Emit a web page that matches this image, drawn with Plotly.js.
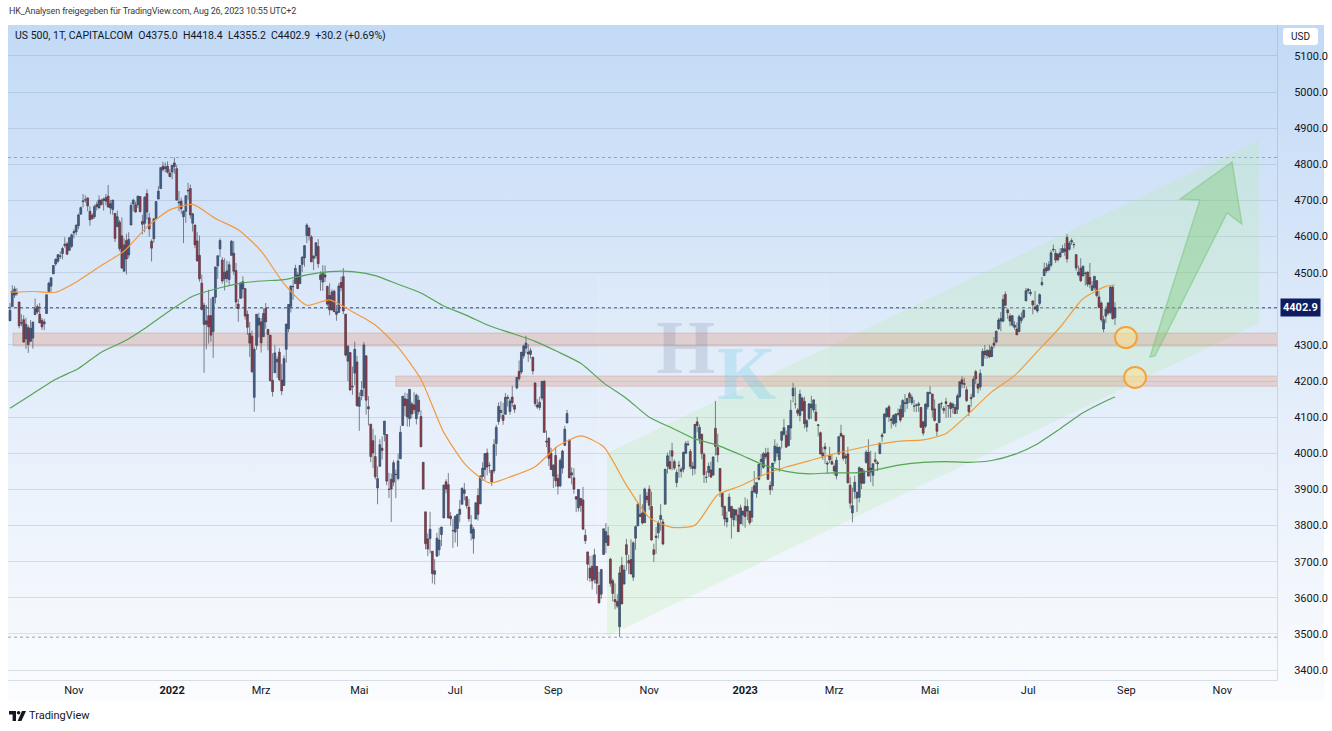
<!DOCTYPE html>
<html><head><meta charset="utf-8">
<script src="https://cdn.plot.ly/plotly-3.0.1.min.js"></script>
<style>
html,body{margin:0;padding:0;width:1332px;height:731px;overflow:hidden;background:#fff;font-family:Roboto,"Noto Sans",sans-serif;}
#bg{position:absolute;left:8px;top:25px;width:1316px;height:675px;background:linear-gradient(to bottom,#c2daf6 0%,#d2e3f8 25%,#e1ecfa 50%,#eef4fc 75%,#fafcfe 100%);}
#chart{position:absolute;left:0;top:0;width:1332px;height:731px;}
#hdr{position:absolute;left:9px;top:6px;font-size:9px;letter-spacing:-0.15px;color:#3a3a3a;white-space:nowrap;}
#leg{position:absolute;left:15px;top:29px;font-size:10.5px;color:#131722;white-space:pre;}
#usd{position:absolute;left:1283px;top:28px;width:35px;height:17px;background:#fff;border-radius:3px;font-size:10px;color:#131722;text-align:center;line-height:17px;}
#foot{position:absolute;left:9px;top:709px;font-size:11px;color:#131722;display:flex;align-items:center;gap:3px;}
</style></head>
<body>
<div id="bg"></div>
<div id="chart"></div>
<div id="hdr">HK_Analysen freigegeben für TradingView.com, Aug 26, 2023 10:55 UTC+2</div>
<div id="leg"></div>
<div id="usd">USD</div>
<div id="foot"><svg width="17" height="10" viewBox="0 0 17 10"><path d="M0 0H7V10H3.6V3.4H0Z" fill="#131722"/><circle cx="9.6" cy="1.8" r="1.8" fill="#131722"/><path d="M13 0H17L12.4 10H8.6Z" fill="#131722"/></svg><span>TradingView</span></div>
<script>
// ---- data (US 500 CFD, daily, 22 Sep 2021 .. 25 Aug 2023) ----
const opens = [
4367,4406,4438,4442,4419,4362,4370,
4317,4348,4310,4319,4384,4406,4385,4368,4358,4387,4448,4463,4497,4524,4532,4547,4553,4579,4580,4562,4573,
4610,4613,4630,4662,4699,4701,4707,4670,4659,4655,4689,4679,4701,4700,4708,4712,4679,4675,4664,4628,4640,
4602,4504,4589,4549,4632,4690,4688,4688,4711,4642,4637,4719,4652,4587,4594,4650,4704,4733,4795,4788,4795,4776,
4779,4804,4788,4693,4698,4655,4670,4728,4733,4637,4632,4588,4548,4471,4357,4367,4381,4381,4337,4432,
4519,4566,4535,4483,4505,4481,4548,4554,4506,4413,4429,4455,4456,4385,4332,4324,4155,4299,4355,
4364,4323,4401,4343,4327,4202,4223,4253,4280,4203,4188,4288,4345,4407,4462,4470,4494,4470,4523,4541,4603,4624,4599,
4540,4547,4573,4494,4474,4494,4462,4437,4397,4449,4385,4390,4473,4489,4385,4255,4279,4186,4222,4253,
4130,4159,4181,4270,4129,4081,4035,3991,3904,3964,4014,4052,4052,3900,3928,3920,3942,3930,3985,4077,4151,
4149,4096,4137,4134,4096,4147,4102,3975,3838,3763,3764,3729,3665,3715,3733,3775,3821,3921,3913,3826,3786,
3782,3792,3831,3859,3889,3880,3851,3779,3764,3818,3883,3860,3936,3955,4001,3966,3953,3951,4027,4088,
4113,4105,4108,4155,4116,4156,4133,4181,4227,4225,4270,4291,4280,4274,4266,4195,4134,4127,4153,4199,4034,4042,4000,
3937,3994,3930,3910,3959,4022,4084,4037,3940,3932,3880,3849,3875,3871,3773,3727,3682,3687,3651,3687,3634,
3610,3720,3753,3772,3707,3647,3595,3590,3520,3690,3638,3747,3703,3706,3657,3765,3799,3825,3835,3808,3881,
3901,3853,3733,3767,3780,3817,3810,3859,3964,3977,4007,3977,3919,3967,3956,3956,4000,4024,4005,3964,3958,
4087,4041,4053,3997,3934,3947,3954,3940,4069,4016,3958,3890,3853,3810,3840,3853,3816,3843,3829,3805,3829,
3853,3840,3840,3823,3910,3889,3928,3977,3961,3999,4002,3911,3910,3979,4001,3982,4036,4053,4050,4021,
4070,4159,4136,4120,4105,4153,4144,4073,4097,4126,4120,4114,4077,4057,4001,4018,3973,3993,3977,
3964,3938,3998,4055,4049,3987,3998,3912,3835,3894,3876,3878,3958,3917,3975,4003,3959,3939,3982,3974,3999,4046,4056,
4102,4129,4095,4082,4085,4110,4122,4101,4140,4138,4165,4140,4131,4132,4133,4127,4087,4075,4129,
4166,4164,4123,4082,4085,4137,4124,4143,4132,4139,4127,4127,4122,4157,4204,4191,4176,4133,4155,4156,4226,4191,
4184,4242,4283,4271,4285,4268,4305,4308,4345,4366,4366,4440,4397,4380,4355,4355,4344,4337,4368,4377,4422,
4450,4442,4422,4405,4394,4415,4467,4492,4514,4508,4521,4563,4554,4551,4544,4556,4559,4598,4565,4585,
4578,4550,4494,4513,4491,4498,4502,4487,4451,4459,4478,4433,4416,4344,4380,4416,4390,4460,4375.0];
const highs = [
4416,4465,4463,4457,4419,4385,4382,
4375,4355,4369,4365,4429,4412,4416,4375,4372,4439,4475,4487,4520,4540,4551,4559,4572,4598,4585,4597,4608,
4621,4635,4664,4683,4718,4714,4708,4684,4665,4688,4697,4714,4705,4708,4718,4743,4702,4702,4664,4672,4646,
4653,4595,4608,4612,4694,4705,4697,4713,4711,4660,4712,4731,4666,4592,4651,4698,4740,4791,4807,4805,4808,4787,
4797,4819,4798,4726,4708,4673,4714,4749,4744,4666,4633,4612,4603,4495,4417,4411,4453,4429,4432,4516,
4547,4595,4543,4540,4533,4531,4590,4588,4527,4427,4472,4490,4457,4395,4363,4340,4295,4385,4389,
4375,4401,4416,4343,4327,4277,4299,4268,4291,4247,4271,4358,4412,4465,4481,4522,4501,4520,4546,4575,4637,4627,4604,
4548,4583,4593,4504,4521,4520,4464,4471,4454,4453,4411,4471,4489,4513,4386,4300,4279,4240,4309,4270,
4169,4200,4308,4270,4158,4081,4068,4050,3964,4039,4047,4090,4052,3946,3944,3981,3955,3999,4076,4158,4168,
4166,4177,4143,4169,4165,4160,4119,3975,3838,3778,3838,3729,3707,3780,3794,3796,3913,3928,3945,3837,3818,
3829,3832,3871,3906,3918,3880,3873,3829,3796,3863,3903,3939,3975,3999,4013,3975,3954,4039,4079,4141,
4144,4140,4167,4162,4152,4187,4137,4211,4257,4280,4301,4325,4302,4292,4266,4195,4150,4157,4200,4203,4063,4044,4015,
3970,4018,3942,3987,4010,4076,4120,4037,3961,3959,3880,3900,3877,3907,3790,3727,3716,3717,3736,3687,3672,
3680,3791,3807,3797,3711,3653,3640,3610,3686,3713,3690,3763,3719,3762,3757,3800,3862,3886,3859,3905,3893,
3911,3894,3750,3796,3814,3859,3818,3957,4002,4009,4029,3983,3955,3979,3962,4004,4034,4035,4012,3976,4080,
4101,4080,4053,4002,3951,3974,3977,3990,4145,4054,3959,3890,3855,3839,3889,3853,3845,3846,3849,3858,3840,
3878,3873,3840,3907,3951,3919,3970,3998,4004,4015,4015,3922,3973,4039,4028,4020,4060,4095,4063,4077,
4148,4195,4183,4125,4176,4157,4157,4095,4138,4159,4148,4136,4081,4060,4018,4029,3979,4018,3997,
3972,3990,4048,4079,4050,4000,4018,3934,3905,3938,3894,3964,3959,3956,4009,4039,4007,3972,4003,3979,4030,4057,4110,
4128,4134,4100,4108,4110,4124,4134,4150,4164,4152,4170,4162,4148,4138,4143,4127,4090,4139,4170,
4186,4165,4149,4083,4139,4143,4131,4154,4133,4143,4141,4136,4165,4198,4213,4209,4185,4133,4165,4213,4231,4195,
4232,4290,4300,4289,4300,4298,4322,4340,4375,4391,4439,4448,4401,4387,4382,4366,4362,4384,4390,4398,4458,
4456,4454,4422,4449,4413,4443,4488,4528,4527,4532,4562,4578,4565,4555,4568,4577,4582,4607,4587,4595,
4585,4551,4520,4540,4520,4503,4503,4527,4477,4490,4478,4449,4421,4381,4407,4419,4465,4466,4418.4];
const lows = [
4367,4406,4430,4436,4346,4352,4306,
4289,4278,4309,4290,4384,4386,4361,4342,4341,4387,4448,4447,4496,4519,4527,4538,4537,4569,4551,4562,4569,
4595,4604,4621,4662,4681,4694,4670,4630,4648,4650,4672,4679,4688,4672,4687,4680,4662,4660,4585,4626,4560,
4510,4504,4495,4540,4632,4670,4666,4679,4667,4606,4612,4647,4600,4531,4583,4645,4703,4733,4780,4778,4775,4765,
4759,4774,4700,4671,4663,4582,4638,4702,4650,4614,4568,4530,4475,4396,4223,4288,4304,4309,4264,4415,
4483,4544,4470,4451,4473,4465,4548,4494,4401,4364,4429,4430,4370,4328,4267,4222,4115,4287,4321,
4279,4323,4345,4285,4199,4157,4223,4209,4200,4161,4187,4251,4335,4390,4425,4470,4455,4468,4502,4517,4582,4589,4530,
4507,4539,4514,4450,4450,4474,4408,4382,4395,4392,4367,4390,4449,4385,4268,4200,4175,4162,4188,4129,
4062,4147,4157,4107,4077,3975,3959,3928,3859,3964,3983,4033,3912,3876,3810,3909,3876,3925,3985,4077,4104,
4074,4074,4097,4110,4080,4107,4017,3901,3734,3715,3723,3640,3637,3715,3717,3743,3821,3889,3820,3800,3738,
3753,3742,3809,3859,3870,3847,3811,3759,3722,3818,3814,3860,3924,3927,3939,3946,3910,3944,3993,4079,
4096,4079,4108,4129,4107,4128,4112,4177,4201,4219,4262,4277,4253,4262,4218,4130,4123,4119,4147,4057,4017,3965,3954,
3904,3907,3886,3906,3944,4022,4084,3933,3914,3888,3837,3839,3838,3789,3749,3648,3644,3623,3640,3610,3584,
3597,3720,3723,3744,3631,3590,3568,3571,3491,3584,3638,3676,3666,3665,3647,3733,3799,3824,3803,3808,3863,
3843,3758,3699,3722,3764,3786,3745,3859,3944,3956,3953,3954,3906,3932,3933,3947,3999,4020,3956,3938,3942,
4058,4026,3984,3918,3918,3935,3933,3937,3994,3975,3879,3827,3800,3795,3839,3764,3797,3813,3783,3805,3800,
3794,3815,3802,3810,3890,3877,3925,3937,3957,3984,3926,3885,3897,3971,3990,3949,4013,4048,4015,4020,
4037,4141,4124,4103,4088,4117,4069,4060,4092,4095,4113,4089,4047,3997,3982,3971,3944,3973,3968,
3939,3928,3995,4044,3980,3970,3918,3847,3809,3874,3838,3864,3901,3916,3971,3936,3920,3909,3971,3951,3999,4032,4056,
4098,4087,4069,4077,4073,4103,4086,4099,4114,4123,4140,4134,4115,4114,4115,4071,4049,4070,4122,
4164,4099,4088,4048,4084,4124,4110,4098,4099,4099,4110,4109,4109,4153,4180,4180,4142,4103,4129,4155,4192,4166,
4174,4242,4262,4262,4264,4266,4291,4305,4341,4338,4363,4407,4372,4352,4351,4342,4328,4336,4360,4372,4422,
4442,4436,4385,4399,4389,4409,4463,4491,4499,4504,4515,4557,4527,4531,4541,4555,4547,4528,4561,4577,
4567,4505,4490,4474,4491,4464,4461,4457,4451,4453,4432,4403,4364,4335,4360,4383,4385,4370,4355.2];
const closes = [
4396,4449,4455,4443,4353,4360,4308,
4357,4301,4346,4363,4400,4391,4361,4350,4364,4439,4471,4486,4520,4537,4550,4545,4567,4575,4551,4597,4605,
4614,4631,4660,4680,4697,4702,4685,4646,4649,4683,4683,4701,4688,4704,4698,4682,4691,4701,4595,4655,4567,
4513,4577,4538,4592,4686,4701,4668,4712,4669,4634,4709,4668,4621,4568,4649,4697,4726,4791,4786,4793,4778,4766,
4797,4794,4701,4696,4677,4670,4713,4726,4660,4663,4577,4533,4483,4398,4410,4357,4350,4327,4432,4516,
4547,4589,4477,4501,4484,4522,4587,4504,4419,4401,4472,4475,4380,4349,4305,4226,4288,4385,4374,
4306,4387,4364,4329,4201,4171,4278,4260,4204,4173,4262,4358,4412,4463,4461,4512,4456,4520,4543,4575,4632,4602,4530,
4546,4583,4525,4481,4500,4488,4413,4397,4447,4392,4392,4463,4459,4394,4272,4296,4175,4184,4288,4132,
4155,4175,4300,4147,4123,3991,4001,3935,3930,4024,4008,4089,3923,3901,3901,3974,3941,3979,4058,4158,4132,
4101,4177,4109,4121,4161,4116,4018,3901,3750,3735,3790,3667,3675,3765,3760,3796,3912,3901,3821,3819,3785,
3825,3831,3845,3903,3899,3855,3819,3802,3790,3863,3831,3937,3959,3999,3962,3967,3921,4024,4072,4130,
4119,4091,4155,4152,4145,4140,4122,4210,4207,4280,4297,4305,4275,4284,4228,4138,4128,4141,4199,4058,4031,3986,3955,
3967,3924,3909,3980,4006,4067,4110,3932,3946,3901,3873,3900,3856,3790,3758,3693,3655,3647,3719,3640,3586,
3678,3791,3783,3745,3640,3612,3589,3577,3669,3583,3677,3720,3696,3666,3752,3797,3859,3831,3807,3901,3872,
3856,3760,3720,3771,3807,3828,3749,3956,3993,3957,3992,3959,3947,3965,3950,4003,4027,4026,3964,3958,4080,
4077,4072,3999,3941,3933,3964,3934,3990,4019,3996,3896,3852,3818,3821,3879,3822,3845,3829,3783,3849,3840,
3825,3853,3808,3895,3893,3919,3970,3983,3999,3991,3928,3899,3973,4020,4017,4016,4060,4071,4017,4077,
4119,4180,4136,4111,4164,4118,4082,4090,4137,4136,4148,4090,4079,3998,3991,4012,3970,3982,3970,
3951,3981,4046,4048,3986,3992,3918,3862,3855,3920,3892,3960,3917,3951,4003,3937,3948,3971,3977,3971,4028,4051,4109,
4124,4101,4091,4105,4109,4108,4092,4146,4138,4152,4154,4155,4130,4134,4137,4072,4056,4136,4169,
4168,4120,4091,4061,4136,4138,4119,4138,4131,4124,4136,4110,4159,4198,4192,4193,4146,4115,4151,4205,4206,4180,
4221,4282,4273,4284,4267,4294,4299,4338,4369,4373,4426,4410,4389,4366,4381,4349,4328,4378,4376,4396,4450,
4455,4446,4411,4399,4409,4439,4473,4510,4505,4522,4555,4565,4535,4536,4555,4567,4566,4538,4582,4589,
4577,4513,4502,4478,4518,4499,4468,4468,4464,4490,4437,4404,4370,4370,4399,4388,4460,4372.7,4402.9];

// trading days per month, Sep 2021 .. Nov 2023 (first month partial)
const monthBars = [7,21,21,22, 20,19,23,20,21,21,20,23,21,21,21,21, 20,19,23,19,22,21,20,23,20,22,21];
const monthLabels = ['','','Nov','','<b>2022</b>','','Mrz','','Mai','','Jul','','Sep','','Nov','','<b>2023</b>','','Mrz','','Mai','','Jul','','Sep','','Nov'];

// moving averages (bar index, value)
const maBars = [0,10,20,30,40,50,60,70,80,90,100,110,120,130,140,150,160,170,180,190,200,210,220,230,240,250,260,270,280,290,300,310,320,330,340,350,360,370,380,390,400,410,420,430,440,450,460,470,480,484];
const ma50 = [4446,4448,4446,4478,4520,4560,4627,4674,4689,4650,4619,4560,4470,4410,4425,4392,4355,4293,4205,4058,3965,3918,3937,3963,4020,4048,4018,3912,3822,3795,3801,3885,3910,3940,3962,3979,3997,4012,4025,4034,4037,4055,4110,4170,4215,4282,4349,4428,4462,4466];
const ma200 = [4125,4165,4205,4235,4280,4310,4350,4395,4435,4455,4470,4477,4481,4494,4503,4503,4492,4468,4444,4408,4382,4353,4332,4310,4281,4249,4195,4152,4100,4070,4040,4022,3996,3968,3950,3943,3946,3946,3955,3968,3975,3977,3975,3980,3997,4026,4068,4112,4145,4156];

const yTicks = [3400,3500,3600,3700,3800,3900,4000,4100,4200,4300,4400,4500,4600,4700,4800,4900,5000,5100];

// ---- build ----
const n = closes.length;
const last = n - 1;
const idx = [], bodyH = [], bodyLo = [], bodyCol = [], wx = [], wy = [];
for (let i = 0; i < n; i++) {
  idx.push(i);
  const lo = Math.min(opens[i], closes[i]), hi = Math.max(opens[i], closes[i]);
  bodyLo.push(lo);
  bodyH.push(hi - lo);
  bodyCol.push(closes[i] >= opens[i] ? '#3a74cc' : '#e0253e');
  wx.push(i, i, null);
  wy.push(Math.min(lows[i], lo), Math.max(highs[i], hi), null);
}
const tickvals = [], ticktext = [];
let acc = 0;
monthBars.forEach((b, k) => { if (monthLabels[k]) { tickvals.push(acc); ticktext.push(monthLabels[k]); } acc += b; });

const chg = closes[last] - closes[last - 1];
const pct = chg / closes[last - 1] * 100;
const sgn = chg >= 0 ? '+' : '';
document.getElementById('leg').textContent =
  'US 500, 1T, CAPITALCOM  O' + opens[last].toFixed(1) + '  H' + highs[last].toFixed(1) +
  '  L' + lows[last].toFixed(1) + '  C' + closes[last].toFixed(1) + '  ' + sgn + chg.toFixed(1) +
  ' (' + sgn + pct.toFixed(2) + '%)';

const hiAll = Math.max(...highs), loAll = Math.min(...lows);
// hide the axis label hidden behind the last-price tag
const yText = yTicks.map(v => Math.abs(v - closes[last]) < 25 ? '' : v.toFixed(1));

const traces = [
  {type:'scatter', mode:'lines', x:wx, y:wy, line:{color:'rgba(75,80,92,0.7)', width:1}, hoverinfo:'skip'},
  {type:'bar', x:idx, y:bodyH, base:bodyLo, width:0.8,
   marker:{color:bodyCol, line:{color:'#1c1f26', width:0.55}}},
  {type:'scatter', mode:'lines', x:maBars, y:ma50, line:{color:'#f39a3c', width:1.2, shape:'spline', smoothing:0.6}},
  {type:'scatter', mode:'lines', x:maBars, y:ma200, line:{color:'#55a555', width:1.2, shape:'spline', smoothing:0.6}}
];

const shapes = [
  // watermark panel
  {type:'rect', xref:'x', yref:'y', x0:257.6, x1:358.3, y0:3511, y1:4488, fillcolor:'rgba(255,255,255,0.08)', line:{color:'rgba(255,255,255,0.2)', width:1}, layer:'between'},
  // channel
  {type:'path', xref:'x', yref:'y', path:'M261.5,3493 L261.5,4000 L547.1,4867 L547.1,4360 Z', fillcolor:'rgba(180,235,170,0.26)', line:{width:0}, layer:'between'},
  // support zones
  {type:'rect', xref:'x', yref:'y', x0:1.3, x1:556, y0:4297, y1:4333, fillcolor:'rgba(223,135,108,0.28)', line:{color:'rgba(200,130,110,0.3)', width:1}, layer:'between'},
  {type:'rect', xref:'x', yref:'y', x0:169, x1:556, y0:4186, y1:4214, fillcolor:'rgba(223,135,108,0.28)', line:{color:'rgba(200,130,110,0.3)', width:1}, layer:'between'},
  // price lines
  {type:'line', xref:'paper', yref:'y', x0:0, x1:1, y0:hiAll, y1:hiAll, line:{color:'#9aa2b1', width:1, dash:'dot'}, layer:'between'},
  {type:'line', xref:'paper', yref:'y', x0:0, x1:1, y0:loAll, y1:loAll, line:{color:'#9aa2b1', width:1, dash:'dot'}, layer:'between'},
  {type:'line', xref:'paper', yref:'y', x0:0, x1:1, y0:closes[last], y1:closes[last], line:{color:'#2a4a96', width:1, dash:'dot'}, layer:'between'},
  // arrow
  {type:'path', xref:'x', yref:'y', path:'M499.3,4266.6 L521.2,4701.3 L512.5,4704.1 L535.3,4806.5 L539.6,4634.9 L533.1,4665.3 L501.5,4269.4 Z',
   fillcolor:'rgba(120,200,115,0.38)', line:{color:'rgba(100,190,100,0.4)', width:1.5}, layer:'above'},
  // circles
  {type:'circle', xref:'x', yref:'y', x0:484.0, x1:493.6, y0:4291.5, y1:4349.7, fillcolor:'rgba(255,228,150,0.55)', line:{color:'#f2a23e', width:2}, layer:'above'},
  {type:'circle', xref:'x', yref:'y', x0:488.0, x1:497.6, y0:4181, y1:4239, fillcolor:'rgba(255,228,150,0.55)', line:{color:'#f2a23e', width:2}, layer:'above'}
];

const annotations = [
  {xref:'x', yref:'y', x:296.0, y:4294, text:'<b>H</b>', showarrow:false, font:{family:'Liberation Serif', size:76, color:'rgba(105,120,150,0.2)'}},
  {xref:'x', yref:'y', x:322.5, y:4222, text:'<b>K</b>', showarrow:false, font:{family:'Liberation Serif', size:76, color:'rgba(120,205,235,0.33)'}},
  {xref:'paper', yref:'y', x:1, y:closes[last], xanchor:'left', xshift:3, text:'<b>' + closes[last].toFixed(1) + '</b>', showarrow:false,
   bgcolor:'#0d1d60', borderpad:2, font:{family:'Roboto', size:11, color:'#ffffff'}}
];

const layout = {
  width:1332, height:731, margin:{l:8, r:55, t:25, b:51},
  paper_bgcolor:'rgba(0,0,0,0)', plot_bgcolor:'rgba(0,0,0,0)',
  showlegend:false, bargap:0,
  font:{family:'Roboto, Noto Sans, sans-serif', color:'#131722'},
  xaxis:{range:[-0.876, 554.97], tickmode:'array', tickvals:tickvals, ticktext:ticktext, showgrid:false, zeroline:false,
         ticks:'', tickfont:{size:11, color:'#131722'}, showline:true, linecolor:'rgba(120,130,150,0.25)', fixedrange:true},
  yaxis:{range:[3372.4, 5185.8], side:'right', tickmode:'array', tickvals:yTicks, ticktext:yText,
         showgrid:true, gridcolor:'rgba(110,130,165,0.22)', gridwidth:1, zeroline:false, ticks:'', ticklabelstandoff:14,
         tickfont:{size:11, color:'#131722'}, showline:true, linecolor:'rgba(120,130,150,0.25)', fixedrange:true},
  shapes:shapes, annotations:annotations
};

Plotly.newPlot('chart', traces, layout, {staticPlot:true, displayModeBar:false});
</script>
</body></html>
